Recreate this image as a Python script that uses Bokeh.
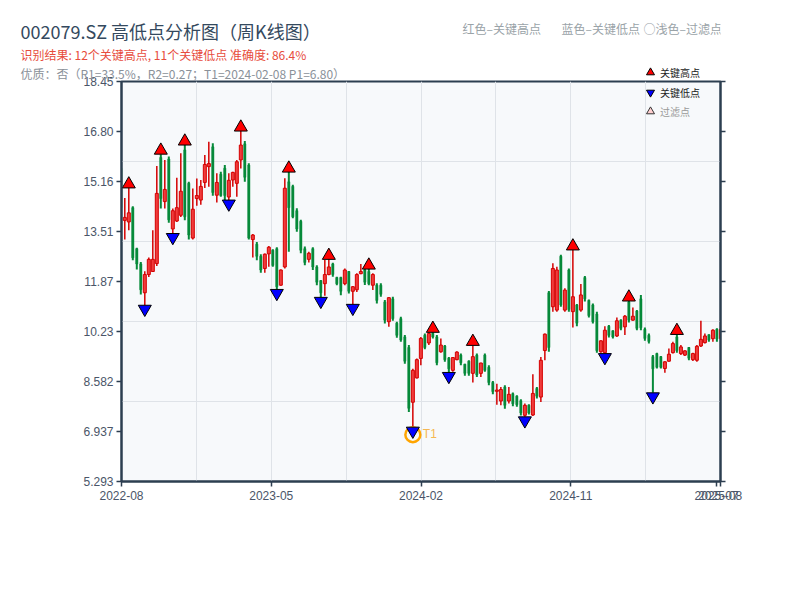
from bokeh.plotting import figure
from bokeh.layouts import column
from bokeh.models import (Range1d, FixedTicker, LinearAxis, Label, Legend, LegendItem, Title,
                          ColumnDataSource, CustomJSTickFormatter)
from bokeh.core.properties import value
from bokeh.embed import file_html
from bokeh.resources import INLINE

# ---------------- data (weekly K-line, 002079.SZ) ----------------
opens = [15.60, 13.88, 13.83, 14.30, 12.95, 12.45, 11.50, 12.10, 12.20, 12.46,
         15.95, 14.50, 15.90, 13.60, 13.86, 14.05, 16.20, 15.10, 13.30, 14.60,
         14.55, 15.13, 15.65, 16.30, 14.71, 15.40, 15.60, 14.65, 15.21, 15.10,
         15.87, 16.40, 15.70, 13.25, 13.10, 12.70, 12.30, 12.78, 12.90, 12.95,
         11.75, 12.35, 15.15, 15.00, 14.20, 13.85, 12.95, 12.60, 12.95, 12.35,
         11.90, 11.80, 12.10, 12.45, 12.00, 12.00, 11.80, 12.20, 11.55, 11.60,
         12.13, 12.25, 12.20, 11.75, 11.75, 11.75, 11.20, 10.55, 11.30, 10.50,
         10.65, 10.05, 9.70, 7.90, 8.70, 9.34, 10.10, 9.85, 10.17, 10.05,
         9.56, 9.75, 9.35, 8.95, 9.30, 9.45, 9.15, 9.25, 8.85, 9.45,
         8.85, 9.45, 9.05, 8.55, 8.26, 7.94, 8.40, 7.94, 8.18, 8.10,
         7.95, 7.47, 7.80, 7.48, 8.35, 8.07, 9.60, 11.50, 11.04, 10.93,
         12.70, 10.93, 12.25, 10.88, 11.10, 10.93, 12.00, 11.25, 11.10, 10.80,
         9.56, 9.53, 10.40, 10.25, 10.08, 10.60, 10.38, 11.20, 10.60, 10.90,
         11.30, 10.30, 10.10, 9.40, 9.50, 9.40, 9.01, 9.25, 9.53, 10.05,
         9.50, 9.45, 9.70, 9.30, 9.28, 9.75, 9.86, 10.12, 9.99, 10.30,
         10.00]
highs = [15.70, 14.62, 14.95, 14.35, 12.98, 12.51, 12.21, 12.66, 13.56, 15.67,
         16.06, 15.87, 15.98, 14.27, 15.28, 16.09, 16.36, 15.15, 14.93, 15.26,
         15.21, 16.03, 16.47, 16.42, 15.43, 15.48, 15.70, 15.43, 15.48, 15.87,
         16.82, 16.49, 15.76, 13.43, 13.17, 12.77, 12.79, 13.04, 12.93, 13.00,
         12.27, 15.27, 15.47, 15.05, 14.28, 13.90, 13.02, 12.85, 13.00, 12.41,
         11.92, 12.58, 12.60, 12.49, 12.03, 12.03, 12.30, 12.22, 11.72, 12.14,
         12.45, 12.30, 12.28, 12.14, 11.81, 11.81, 11.26, 11.35, 11.37, 10.55,
         10.71, 10.11, 9.78, 9.00, 9.34, 10.05, 10.16, 10.20, 10.20, 10.11,
         10.00, 9.78, 9.39, 9.39, 9.58, 9.50, 9.17, 9.28, 9.77, 9.50,
         9.20, 9.50, 9.12, 8.60, 8.51, 8.40, 8.46, 8.40, 8.22, 8.13,
         8.00, 7.86, 7.83, 8.82, 8.40, 9.39, 10.16, 11.56, 12.47, 12.36,
         12.75, 11.65, 12.30, 12.91, 11.13, 11.79, 12.05, 11.28, 11.15, 10.88,
         9.94, 10.40, 10.44, 10.27, 10.69, 10.63, 10.77, 11.23, 11.02, 10.93,
         11.43, 10.36, 10.16, 9.45, 9.53, 9.42, 9.25, 9.67, 9.89, 10.13,
         9.78, 9.61, 9.72, 9.53, 9.78, 10.58, 10.16, 10.14, 10.30, 10.33,
         10.38]
lows = [14.16, 13.25, 13.56, 12.57, 12.27, 11.44, 11.09, 12.02, 12.19, 12.38,
        14.27, 14.27, 13.80, 13.45, 13.83, 13.99, 13.89, 13.25, 13.25, 14.36,
        14.40, 14.95, 14.99, 14.69, 14.47, 14.66, 14.55, 14.55, 14.99, 14.66,
        15.59, 15.15, 13.25, 12.66, 12.57, 12.16, 12.16, 12.36, 12.36, 11.61,
        11.73, 12.30, 12.85, 13.95, 13.51, 12.80, 12.41, 12.50, 12.25, 11.75,
        11.35, 11.40, 12.08, 12.03, 11.75, 11.42, 11.75, 11.48, 11.12, 11.53,
        12.11, 11.76, 11.75, 11.59, 11.15, 11.37, 10.49, 10.38, 10.58, 10.02,
        9.89, 9.17, 7.58, 7.08, 8.68, 9.12, 9.64, 9.78, 10.00, 9.12,
        9.53, 9.23, 8.88, 8.90, 9.28, 9.12, 8.77, 8.77, 8.55, 8.73,
        8.73, 8.90, 8.46, 8.16, 7.82, 7.80, 7.69, 7.86, 7.77, 7.75,
        7.46, 7.42, 7.50, 7.45, 8.02, 7.91, 9.28, 9.56, 10.88, 10.88,
        11.04, 10.88, 10.88, 10.36, 10.40, 10.88, 11.21, 10.69, 10.49, 9.53,
        9.53, 9.50, 10.03, 10.00, 10.05, 10.27, 10.11, 10.52, 10.58, 10.27,
        10.27, 9.92, 9.83, 8.21, 9.01, 9.01, 8.87, 9.23, 9.50, 9.53,
        9.45, 9.42, 9.28, 9.26, 9.23, 9.72, 9.83, 9.89, 9.89, 9.89,
        9.94]
closes = [14.30, 13.98, 14.13, 12.65, 12.45, 11.60, 12.10, 12.60, 12.60, 14.77,
          14.60, 14.90, 13.90, 14.20, 14.30, 14.84, 14.00, 13.40, 14.25, 14.70,
          15.00, 15.72, 15.75, 14.80, 15.13, 14.70, 14.70, 15.20, 15.46, 15.81,
          16.36, 15.30, 13.30, 13.40, 12.70, 12.25, 12.77, 13.00, 12.40, 11.70,
          12.25, 14.94, 14.30, 14.00, 13.60, 12.90, 12.50, 12.80, 12.35, 11.85,
          11.50, 12.10, 12.35, 12.10, 11.80, 11.55, 12.25, 11.55, 11.70, 12.10,
          12.20, 11.85, 11.80, 12.10, 11.25, 11.45, 10.60, 11.34, 10.65, 10.10,
          9.95, 9.25, 7.70, 8.95, 9.30, 10.00, 9.70, 10.16, 10.05, 9.20,
          9.78, 9.30, 9.00, 9.37, 9.55, 9.20, 8.85, 8.85, 9.40, 8.80,
          9.19, 8.95, 8.55, 8.25, 8.30, 8.32, 7.80, 8.16, 7.85, 7.82,
          7.55, 7.80, 7.55, 8.19, 8.10, 9.28, 10.14, 9.70, 12.30, 12.25,
          11.10, 11.59, 10.95, 11.37, 10.50, 11.43, 11.30, 10.75, 10.55, 9.60,
          9.92, 10.27, 10.10, 10.05, 10.58, 10.33, 10.73, 10.60, 10.73, 10.33,
          10.35, 10.00, 9.90, 9.00, 9.05, 9.05, 9.23, 9.48, 9.83, 9.60,
          9.72, 9.59, 9.35, 9.50, 9.74, 9.97, 10.08, 9.95, 10.27, 9.98,
          10.30]

key_high_idx = [2, 10, 16, 30, 42, 52, 62, 78, 88, 113, 127, 139]
key_low_idx = [6, 13, 27, 39, 50, 58, 73, 82, 101, 121, 133]
t1_idx = 73

x_tick_labels = ["2022-08", "2023-05", "2024-02", "2024-11", "2025-07", "2025-08"]
y_tick_labels = ["5.293", "6.937", "8.582", "10.23", "11.87", "13.51", "15.16", "16.80", "18.45"]
y_min, y_max = 5.293, 18.45

title_text = "002079.SZ 高低点分析图（周K线图）"
sub_text = "识别结果: 12个关键高点, 11个关键低点  准确度: 86.4%"
info_text = "优质：否（R1=33.5%，R2=0.27；T1=2024-02-08 P1=6.80）"
legend_texts = ["红色–关键高点", "蓝色–关键低点", "○浅色–过滤点"]
legend_labels = ["关键高点", "关键低点", "过滤点"]

# ---------------- styling ----------------
RED, RED_FILL, GREEN = "#d40000", "#f03c3c", "#078a3a"
AX = "#2c3e50"
CJK = "Noto Sans CJK SC"
TICKF = "Liberation Sans"

FL, FW, FH = 121, 599, 400          # frame left (px), frame width, frame height
x0, x1 = 0.175, 149.9
p = figure(title=None, frame_width=FW, frame_height=FH,
           x_range=Range1d(x0, x1), y_range=Range1d(y_min, y_max),
           output_backend="svg", toolbar_location=None,
           min_border_left=FL, min_border_top=81, min_border_right=55, min_border_bottom=100)
p.background_fill_color = "#f7f9fb"
p.border_fill_color = "white"
p.outline_line_color = AX
p.outline_line_width = 2

n = len(opens)
xs = list(range(n))
up = [i for i in xs if closes[i] >= opens[i]]
dn = [i for i in xs if closes[i] < opens[i]]

def src(idx):
    return ColumnDataSource(dict(
        x=idx,
        top=[max(opens[i], closes[i]) for i in idx],
        bottom=[min(opens[i], closes[i]) for i in idx],
        high=[highs[i] for i in idx],
        low=[lows[i] for i in idx]))

s_up, s_dn = src(up), src(dn)
p.segment(x0="x", y0="low", x1="x", y1="high", source=s_dn, line_color=GREEN, line_width=2)
p.vbar(x="x", width=0.55, top="top", bottom="bottom", source=s_dn,
       fill_color=GREEN, line_color=GREEN, line_width=0.5)
p.segment(x0="x", y0="low", x1="x", y1="high", source=s_up, line_color=RED, line_width=1.5)
p.vbar(x="x", width=0.75, top="top", bottom="bottom", source=s_up,
       fill_color=RED_FILL, line_color=RED, line_width=1)

# markers
px_per_unit = FH / (y_max - y_min)
msize = 13
tri_off = (msize / 2) * (3 ** 0.5) / 3 / px_per_unit
hi_y = [highs[i] + tri_off for i in key_high_idx]
lo_y = [lows[i] - tri_off for i in key_low_idx]

p.scatter([t1_idx], [lows[t1_idx] - 7.5 / px_per_unit], marker="circle", size=15,
          fill_alpha=0, line_color="#FFA500", line_width=2.5)
p.scatter(key_high_idx, hi_y, marker="triangle", size=msize,
          fill_color="#ff0000", line_color="black", line_width=1)
p.scatter(key_low_idx, lo_y, marker="inverted_triangle", size=msize,
          fill_color="#0000ff", line_color="black", line_width=1)

p.add_layout(Label(x=t1_idx, y=lows[t1_idx], x_offset=10, y_offset=-6.5, text="T1",
                   text_color="#F5A623", text_alpha=0.8, text_font=TICKF,
                   text_font_size="12px", text_baseline="middle"))

# axes
y_ticks = [y_min + (y_max - y_min) * k / 8 for k in range(9)]
y_ticks[0], y_ticks[-1] = y_min, y_max
x_fracs = [0, 0.25, 0.5, 0.75, 0.9935, 0.9995]
x_ticks = [x0 + f * (x1 - x0) for f in x_fracs]

fmt_code = """
let b = 0, bd = Infinity;
for (let j = 0; j < vals.length; j++) { const d = Math.abs(vals[j] - tick); if (d < bd) { bd = d; b = j; } }
return labels[b];
"""
p.xaxis.ticker = FixedTicker(ticks=x_ticks)
p.xaxis.formatter = CustomJSTickFormatter(args=dict(vals=x_ticks, labels=x_tick_labels), code=fmt_code)
p.yaxis.ticker = FixedTicker(ticks=y_ticks)
p.yaxis.formatter = CustomJSTickFormatter(args=dict(vals=y_ticks, labels=y_tick_labels), code=fmt_code)
right = LinearAxis(ticker=FixedTicker(ticks=y_ticks),
                   formatter=CustomJSTickFormatter(code="return ''"))
p.add_layout(right, "right")

for ax in [p.xaxis[0], p.yaxis[0], right]:
    ax.axis_line_color = AX
    ax.axis_line_width = 2
    ax.major_tick_line_color = AX
    ax.major_tick_line_width = 1.5
    ax.major_tick_out = 5
    ax.major_tick_in = 0
    ax.minor_tick_out = 0
    ax.minor_tick_in = 0
    ax.major_label_text_color = "#4a5568"
    ax.major_label_text_font = TICKF
    ax.major_label_text_font_size = "12px"
p.xaxis.major_label_standoff = 4
p.yaxis[0].major_label_standoff = 3

p.xgrid.ticker = FixedTicker(ticks=[x0 + (x1 - x0) * k / 8 for k in range(1, 8)])
p.ygrid.ticker = FixedTicker(ticks=[y_min + (y_max - y_min) * k / 5 for k in range(1, 5)])
for g in [p.xgrid[0], p.ygrid[0]]:
    g.grid_line_color = "#dfe3e8"
    g.grid_line_width = 1

# ---- titles (above panel; first added = nearest to the frame) ----
for txt, size, col in [(info_text, "12px", "#8a9199"),
                       (sub_text, "12px", "#e74c3c"),
                       (title_text, "18px", "#34495e")]:
    p.add_layout(Title(text=txt, align="left", offset=-101, standoff=0,
                       text_font=CJK, text_font_size=size, text_color=col,
                       text_font_style="normal"), "above")

# ---- transparent overlay plot for the header legend ----
# (the column aligns its frame with the chart frame: x in page pixels FL..FL+FW)
OW, OH = 776, 130
ov = figure(width=OW, height=OH, x_range=Range1d(FL, FL + FW), y_range=Range1d(OH, 0),
            output_backend="svg", toolbar_location=None, title=None,
            x_axis_location=None, y_axis_location=None, min_border=0)
ov.grid.visible = False
ov.outline_line_color = None
ov.background_fill_alpha = 0
ov.border_fill_alpha = 0
ov.styles = {"position": "absolute", "left": "0px", "top": "0px", "pointer-events": "none"}

ov.text(x=[462, 561, 643], y=[28, 28, 28], text=legend_texts,
        text_font=value(CJK), text_font_size=value("12px"), text_color="#9aa3a8",
        text_baseline="middle", text_align="left")

# legend proxies: one point each, placed outside the visible range
far = [-1000]
lr_hi = ov.scatter(far, far, marker="triangle", size=8, fill_color="#ff0000",
                   line_color="black", line_width=1)
lr_lo = ov.scatter(far, far, marker="inverted_triangle", size=8, fill_color="#0000ff",
                   line_color="black", line_width=1)
lr_f = ov.scatter(far, far, marker="triangle", size=8, fill_color="#ffd0d0",
                  line_color="#333333", line_width=1)

def mk_legend(items, loc, color):
    lg = Legend(items=items, location=loc, orientation="vertical")
    lg.padding = 0
    lg.margin = 0
    lg.spacing = 0
    lg.glyph_width = 20
    lg.glyph_height = 20
    lg.label_height = 20
    lg.label_standoff = 0
    lg.border_line_alpha = 0
    lg.background_fill_alpha = 0
    lg.label_text_font = CJK
    lg.label_text_font_size = "10px"
    lg.label_text_color = color
    ov.add_layout(lg, "center")

# glyph column centred at page x=650; rows centred at y=72 / 92 and 111
mk_legend([LegendItem(label=legend_labels[0], renderers=[lr_hi]),
           LegendItem(label=legend_labels[1], renderers=[lr_lo])], (640 - FL, OH - 102), "#222222")
mk_legend([LegendItem(label=legend_labels[2], renderers=[lr_f])], (640 - FL, OH - 121), "#999999")

layout = column(p, ov)
open("out.html", "w").write(file_html(layout, INLINE))
